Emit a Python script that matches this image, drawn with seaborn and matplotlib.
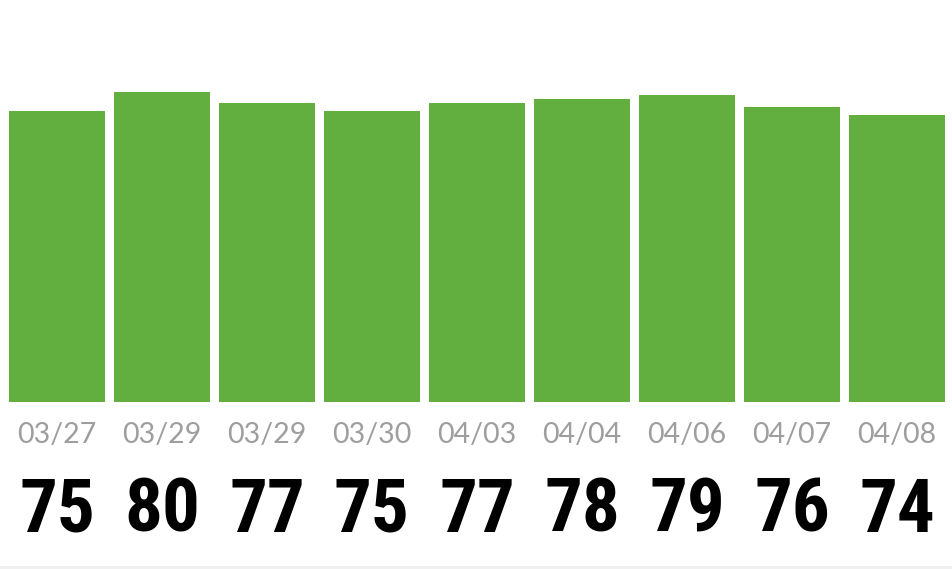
import matplotlib
matplotlib.use("Agg")
import matplotlib.pyplot as plt
import matplotlib.transforms as mtransforms
from matplotlib.patches import Rectangle
import seaborn as sns
import pandas as pd

dates = ["03/27", "03/29", "03/29", "03/30", "04/03", "04/04", "04/06", "04/07", "04/08"]
scores = [75, 80, 77, 75, 77, 78, 79, 76, 74]

sns.set_theme(style="white")
plt.rcParams['font.family'] = ['Lato', 'DejaVu Sans']

df = pd.DataFrame({"idx": list(range(len(dates))), "score": scores})

fig = plt.figure(figsize=(9.52, 5.69), dpi=100)
ax = fig.add_axes([4.5 / 952, 1 - 402 / 569, 945 / 952, 388 / 569])

sns.barplot(data=df, x="idx", y="score", color="#62af40", saturation=1,
            width=96 / 105, ax=ax, linewidth=0)

ax.set_xlim(-0.5, len(dates) - 0.5)
ax.set_ylim(0, 100)
ax.set_xlabel("")
ax.set_ylabel("")
ax.set_yticks([])
ax.set_xticks(range(len(dates)))
ax.set_xticklabels(dates, color="#9e9e9e", fontsize=20.5, fontweight="normal",
                   family=['Lato', 'DejaVu Sans'])
ax.tick_params(axis="x", length=0, pad=14.5)
for s in ax.spines.values():
    s.set_visible(False)

trans = mtransforms.blended_transform_factory(ax.transData, ax.transAxes)
for i, v in enumerate(scores):
    ax.text(i, (402 - 512) / 388, str(v), transform=trans, ha="center", va="center",
            fontsize=54, fontweight="bold", color="black",
            family=['Roboto Condensed', 'DejaVu Sans'])

fig.add_artist(Rectangle((0, 0), 1, 3 / 569, transform=fig.transFigure,
                         facecolor="#f0f0f0", edgecolor="none"))

fig.savefig("out.png", dpi=100)
